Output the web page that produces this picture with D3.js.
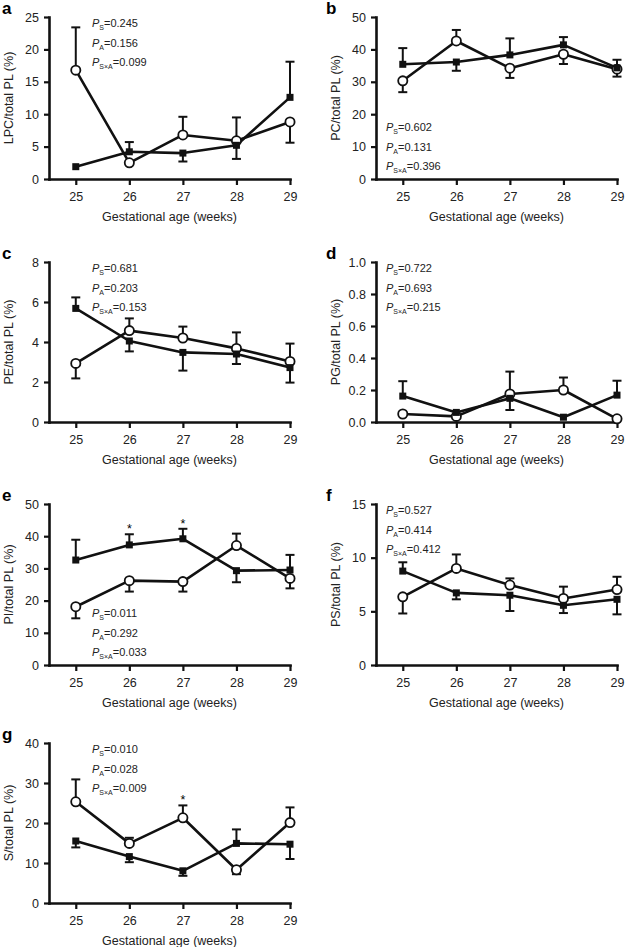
<!DOCTYPE html>
<html><head><meta charset="utf-8">
<script src="https://cdn.jsdelivr.net/npm/d3@7"></script>
<style>body{margin:0;background:#fff}svg{display:block}</style>
</head><body>
<script>
// ---- data ----
const ages = [25, 26, 27, 28, 29];
const pLabels = ["S", "A", "S\u00d7A"];

// a: LPC
const lpcOpen = [16.8, 2.5, 6.8, 5.9, 8.8];
const lpcOpenErr = [23.4, null, 9.6, 9.5, 5.6];
const lpcFilled = [1.9, 4.2, 4.0, 5.2, 12.6];
const lpcFilledErr = [null, 5.7, 2.7, 3.1, 18.1];
const lpcP = ["0.245", "0.156", "0.099"];

// b: PC
const pcOpen = [30.3, 42.6, 34.2, 38.5, 33.9];
const pcOpenErr = [26.8, 46.0, 31.2, 35.5, 31.6];
const pcFilled = [35.4, 36.1, 38.3, 41.4, 34.3];
const pcFilledErr = [40.4, 33.4, 43.4, 43.8, 36.8];
const pcP = ["0.602", "0.131", "0.396"];

// c: PE
const peOpen = [2.93, 4.57, 4.2, 3.68, 3.03];
const peOpenErr = [2.18, 5.18, 4.77, 4.48, 3.92];
const peFilled = [5.68, 4.05, 3.48, 3.4, 2.72];
const peFilledErr = [6.23, 3.53, 2.57, 2.9, 1.97];
const peP = ["0.681", "0.203", "0.153"];

// d: PG
const pgOpen = [0.05, 0.035, 0.175, 0.2, 0.02];
const pgOpenErr = [null, null, 0.315, 0.278, null];
const pgFilled = [0.162, 0.06, 0.148, 0.03, 0.168];
const pgFilledErr = [0.255, null, 0.075, null, 0.258];
const pgP = ["0.722", "0.693", "0.215"];

// e: PI
const piOpen = [18.1, 26.2, 25.9, 37.1, 26.9];
const piOpenErr = [14.5, 22.8, 22.8, 40.8, 23.8];
const piFilled = [32.6, 37.3, 39.2, 29.3, 29.5];
const piFilledErr = [38.9, 40.6, 42.3, 25.7, 34.2];
const piP = ["0.011", "0.292", "0.033"];
const piStars = [26, 27];

// f: PS
const psOpen = [6.35, 9.0, 7.45, 6.2, 7.03];
const psOpenErr = [4.8, 10.3, 8.07, 7.3, 8.22];
const psFilled = [8.75, 6.72, 6.5, 5.56, 6.12];
const psFilledErr = [9.57, 6.12, 5.03, 4.84, 4.72];
const psP = ["0.527", "0.414", "0.412"];

// g: S
const sOpen = [25.3, 14.9, 21.3, 8.3, 20.1];
const sOpenErr = [30.9, 16.3, 24.4, 7.2, 23.9];
const sFilled = [15.5, 11.6, 8.05, 14.9, 14.7];
const sFilledErr = [13.9, 10.2, 6.8, 18.4, 11.0];
const sP = ["0.010", "0.028", "0.009"];
const sStars = [27];

// ---- layout ----
const FONT = '"Liberation Sans", Arial, Helvetica, sans-serif';
const W = 625, H = 947;
const cols = [{ax: 49, letterX: 2, pX: 43}, {ax: 376, letterX: 326, pX: 10}];
const rows = [[17, 179], [262, 422], [504, 665], [743, 903]];
const fmtInt = d3.format("d"), fmt1 = d3.format(".1f");

const panels = [
  {letter: "a", label: "LPC/total PL (%)", max: 25, ticks: [0, 5, 10, 15, 20, 25], fmt: fmtInt,
   open: lpcOpen, openErr: lpcOpenErr, filled: lpcFilled, filledErr: lpcFilledErr, p: lpcP, stars: [], col: 0, row: 0, pTop: true},
  {letter: "b", label: "PC/total PL (%)", max: 50, ticks: [0, 10, 20, 30, 40, 50], fmt: fmtInt,
   open: pcOpen, openErr: pcOpenErr, filled: pcFilled, filledErr: pcFilledErr, p: pcP, stars: [], col: 1, row: 0, pTop: false},
  {letter: "c", label: "PE/total PL (%)", max: 8, ticks: [0, 2, 4, 6, 8], fmt: fmtInt,
   open: peOpen, openErr: peOpenErr, filled: peFilled, filledErr: peFilledErr, p: peP, stars: [], col: 0, row: 1, pTop: true},
  {letter: "d", label: "PG/total PL (%)", max: 1, ticks: [0, 0.2, 0.4, 0.6, 0.8, 1.0], fmt: fmt1,
   open: pgOpen, openErr: pgOpenErr, filled: pgFilled, filledErr: pgFilledErr, p: pgP, stars: [], col: 1, row: 1, pTop: true},
  {letter: "e", label: "PI/total PL (%)", max: 50, ticks: [0, 10, 20, 30, 40, 50], fmt: fmtInt,
   open: piOpen, openErr: piOpenErr, filled: piFilled, filledErr: piFilledErr, p: piP, stars: piStars, col: 0, row: 2, pTop: false},
  {letter: "f", label: "PS/total PL (%)", max: 15, ticks: [0, 5, 10, 15], fmt: fmtInt,
   open: psOpen, openErr: psOpenErr, filled: psFilled, filledErr: psFilledErr, p: psP, stars: [], col: 1, row: 2, pTop: true},
  {letter: "g", label: "S/total PL (%)", max: 40, ticks: [0, 10, 20, 30, 40], fmt: fmtInt,
   open: sOpen, openErr: sOpenErr, filled: sFilled, filledErr: sFilledErr, p: sP, stars: sStars, col: 0, row: 3, pTop: true}
];

const svg = d3.select("body").append("svg").attr("width", W).attr("height", H)
  .style("font-family", FONT);
svg.append("rect").attr("width", W).attr("height", H).attr("fill", "#fff");

panels.forEach(p => {
  const c = cols[p.col];
  const ax = c.ax;
  const [top, bottom] = rows[p.row];
  const x = d3.scaleLinear().domain([24.5, 29]).range([ax, ax + 241]);
  const y = d3.scaleLinear().domain([0, p.max]).range([bottom, top]);
  const g = svg.append("g");

  // axes
  const ya = g.append("g").attr("transform", `translate(${ax},0)`)
    .call(d3.axisLeft(y).tickValues(p.ticks).tickFormat(p.fmt).tickSize(5).tickSizeOuter(0).tickPadding(5));
  const xa = g.append("g").attr("transform", `translate(0,${bottom})`)
    .call(d3.axisBottom(x).tickValues(ages).tickFormat(fmtInt).tickSize(6).tickSizeOuter(0).tickPadding(7));
  [ya, xa].forEach(a => {
    a.attr("font-family", FONT).attr("font-size", 12.5);
    a.select(".domain").attr("stroke", "#111").attr("stroke-width", 2.6).attr("stroke-linecap", "square");
    a.selectAll(".tick line").attr("stroke", "#111").attr("stroke-width", 2.2);
    a.selectAll(".tick text").attr("fill", "#222");
  });

  // axis titles
  g.append("text")
    .attr("transform", `translate(${ax - 36},${(top + bottom) / 2}) rotate(-90)`)
    .attr("text-anchor", "middle").attr("font-size", 12.5).attr("fill", "#222")
    .text(p.label);
  g.append("text")
    .attr("x", ax + 120.5).attr("y", bottom + 42)
    .attr("text-anchor", "middle").attr("font-size", 12.5).attr("fill", "#222")
    .text("Gestational age (weeks)");

  // panel letter
  g.append("text").attr("x", c.letterX).attr("y", top - 3)
    .attr("font-size", 17).attr("font-weight", "bold").attr("fill", "#000")
    .text(p.letter);

  // P annotations
  const baseY = p.pTop ? top + 10 : bottom - 48;
  p.p.forEach((val, i) => {
    const t = g.append("text").attr("x", ax + c.pX).attr("y", baseY + i * 19.5)
      .attr("font-size", 11).attr("fill", "#222");
    t.append("tspan").attr("font-style", "italic").text("P");
    t.append("tspan").attr("font-size", 7).attr("dy", 3).text(pLabels[i]);
    t.append("tspan").attr("dy", -3).text("=" + val);
  });

  const series = [
    {vals: p.open, errs: p.openErr, kind: "open"},
    {vals: p.filled, errs: p.filledErr, kind: "filled"}
  ];

  // error bars
  series.forEach(s => {
    s.vals.forEach((v, i) => {
      const e = s.errs[i];
      if (e == null) return;
      const xi = x(ages[i]);
      g.append("line").attr("x1", xi).attr("x2", xi).attr("y1", y(v)).attr("y2", y(e))
        .attr("stroke", "#111").attr("stroke-width", 2);
      g.append("line").attr("x1", xi - 4.5).attr("x2", xi + 4.5).attr("y1", y(e)).attr("y2", y(e))
        .attr("stroke", "#111").attr("stroke-width", 2);
    });
  });

  // lines
  const line = d3.line().x((d, i) => x(ages[i])).y(d => y(d));
  series.forEach(s => {
    g.append("path").attr("d", line(s.vals)).attr("fill", "none")
      .attr("stroke", "#111").attr("stroke-width", 2.6).attr("stroke-linejoin", "round");
  });

  // markers
  g.selectAll(null).data(p.open).enter().append("circle")
    .attr("cx", (d, i) => x(ages[i])).attr("cy", d => y(d)).attr("r", 4.6)
    .attr("fill", "#fff").attr("stroke", "#111").attr("stroke-width", 1.8);
  g.selectAll(null).data(p.filled).enter().append("rect")
    .attr("x", (d, i) => x(ages[i]) - 3.5).attr("y", d => y(d) - 3.5)
    .attr("width", 7).attr("height", 7).attr("fill", "#111");

  // significance stars
  p.stars.forEach(a => {
    const i = ages.indexOf(a);
    const hi = d3.max([p.open[i], p.filled[i], p.openErr[i], p.filledErr[i]].filter(v => v != null));
    g.append("text").attr("x", x(a)).attr("y", y(hi) - 1)
      .attr("text-anchor", "middle").attr("font-size", 12.5).attr("fill", "#000").text("*");
  });
});
</script>
</body></html>
